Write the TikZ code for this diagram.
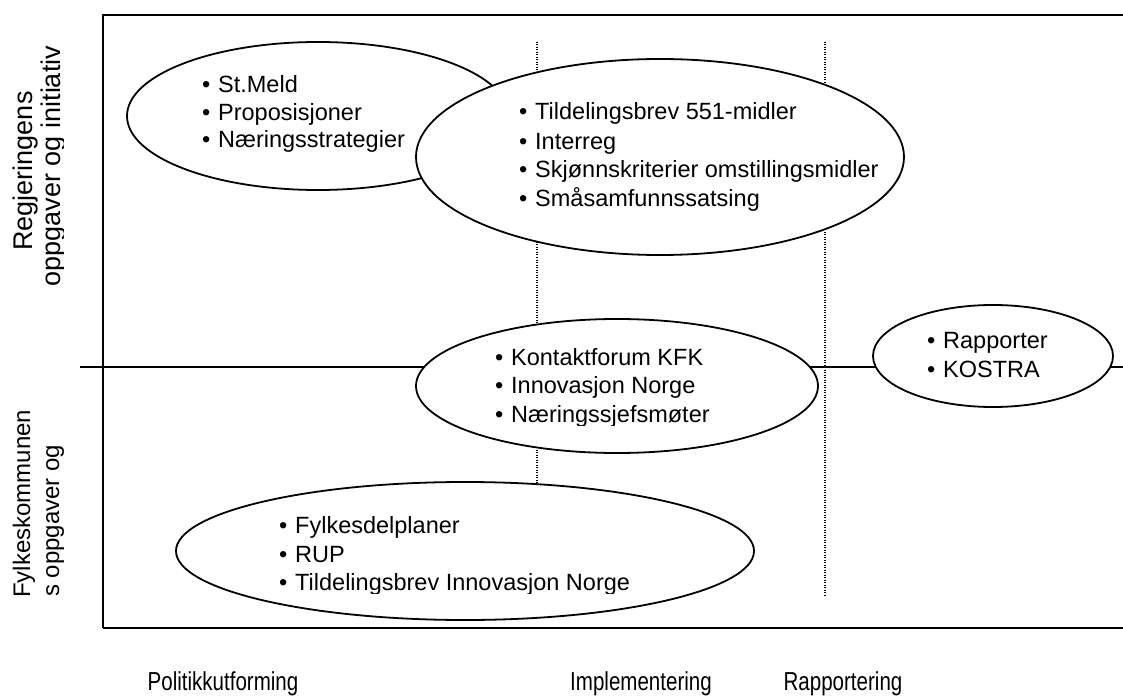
\documentclass[tikz,border=0pt]{standalone}
\usepackage{fontspec}
\setmainfont{Liberation Sans}
\usetikzlibrary{shapes.geometric}
% bullet followed by the item text
\newcommand\bulletitem[1]{\makebox[16pt][l]{•}#1}
\begin{document}
\begin{tikzpicture}[x=1pt,y=-1pt,
  bubble/.style={draw, ellipse, fill=white, line width=1.8pt, inner sep=0pt},
  itemtext/.style={anchor=base west, inner sep=0pt, font=\fontsize{23.5}{28}\selectfont},
  sidetext/.style={inner sep=0pt, rotate=90, font=\fontsize{24}{28}\selectfont},
  bigside/.style={sidetext, font=\fontsize{27}{32}\selectfont},
  phase/.style={anchor=base, inner sep=0pt, font=\fontsize{26}{30}\selectfont},
  guide/.style={line width=1.2pt, dash pattern=on 1pt off 1.5pt}]
\useasboundingbox (0,0) rectangle (1123,700);

% frame of the matrix
\coordinate (tl) at (103,15);
\coordinate (tr) at (1123,15);
\coordinate (bl) at (103,628);
\coordinate (br) at (1123,628);
\draw[line width=1.6pt] (tr) -- (tl) -- (bl);
\draw[line width=2.4pt] (bl) -- (br);

% divider between state and county level
\coordinate (ml) at (80,367);
\coordinate (mr) at (1123,367);
\draw[line width=1.4pt] (ml) -- (mr);

% phase separators
\coordinate (g1t) at (537,42);
\coordinate (g1b) at (537,597);
\coordinate (g2t) at (825,42);
\coordinate (g2b) at (825,597);
\draw[guide] (g1t) -- (g1b);
\draw[guide] (g2t) -- (g2b);

% bubbles
\node[bubble, minimum width=382pt, minimum height=148pt] (policy) at (318,116) {};
\node[bubble, minimum width=488pt, minimum height=196pt] (guidance) at (660,157) {};
\node[bubble, minimum width=402pt, minimum height=134pt] (forum) at (617,386) {};
\node[bubble, minimum width=240pt, minimum height=102pt] (report) at (993,356) {};
\node[bubble, minimum width=578pt, minimum height=138pt] (plans) at (465,551) {};

% policy items
\node[itemtext] (p1) at (202,93) {\bulletitem{St.Meld}};
\node[itemtext] (p2) at (202,121) {\bulletitem{Proposisjoner}};
\node[itemtext] (p3) at (202,148) {\bulletitem{Næringsstrategier}};

% guidance items
\node[itemtext] (g1) at (519,120) {\bulletitem{Tildelingsbrev 551-midler}};
\node[itemtext] (g2) at (519,150) {\bulletitem{Interreg}};
\node[itemtext] (g3) at (519,178) {\bulletitem{Skjønnskriterier omstillingsmidler}};
\node[itemtext] (g4) at (519,207) {\bulletitem{Småsamfunnssatsing}};

% forum items
\node[itemtext] (f1) at (495,365) {\bulletitem{Kontaktforum KFK}};
\node[itemtext] (f2) at (495,393) {\bulletitem{Innovasjon Norge}};
\begin{scope}
  \clip (480,400) rectangle (800,425);
  \node[itemtext] (f3) at (495,422) {\bulletitem{Næringssjefsmøter}};
\end{scope}

% reporting items
\node[itemtext] (r1) at (927,348) {\bulletitem{Rapporter}};
\node[itemtext] (r2) at (927,377) {\bulletitem{KOSTRA}};

% county plan items
\node[itemtext] (c1) at (279,533) {\bulletitem{Fylkesdelplaner}};
\node[itemtext] (c2) at (279,562) {\bulletitem{RUP}};
\begin{scope}
  \clip (260,570) rectangle (700,593);
  \node[itemtext] (c3) at (279,590) {\bulletitem{Tildelingsbrev Innovasjon Norge}};
\end{scope}

% row headings
\node[bigside, anchor=base] (gov1) at (32,171) {Regjeringens};
\node[sidetext, anchor=base west] (cty1) at (30,598) {Fylkeskommunen};
\begin{scope}
  \clip (35,20) rectangle (63,620);
  \node[bigside, anchor=base] (gov2) at (60,166) {oppgaver og initiativ};
  \node[sidetext, anchor=base west] (cty2) at (59,597) {s oppgaver og};
\end{scope}

% column headings
\node[phase] (h1) at (223,690) {\scalebox{0.79}[1]{Politikkutforming}};
\node[phase] (h2) at (641,690) {\scalebox{0.79}[1]{Implementering}};
\node[phase] (h3) at (843,690) {\scalebox{0.79}[1]{Rapportering}};
\end{tikzpicture}
\end{document}
